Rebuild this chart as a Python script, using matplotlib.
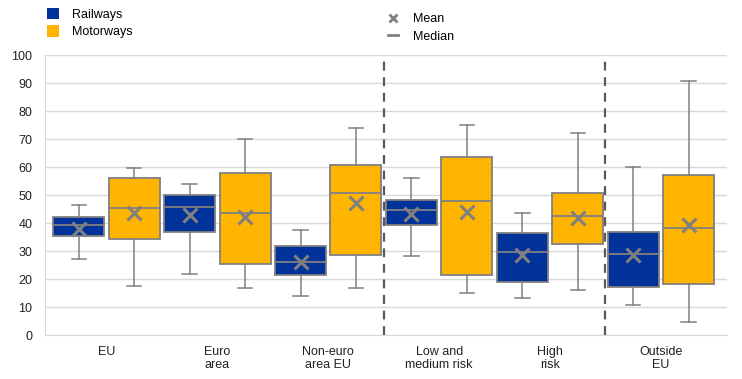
import matplotlib
matplotlib.use("Agg")
import matplotlib.pyplot as plt
from matplotlib.patches import Patch
from matplotlib.lines import Line2D

plt.rcParams['font.family'] = ['Liberation Sans', 'DejaVu Sans']

categories = ['EU', 'Euro\narea', 'Non-euro\narea EU', 'Low and\nmedium risk', 'High\nrisk', 'Outside\nEU']

# per category: railways then motorways
rail_whislo = [27.1, 21.8, 13.9, 28.2, 13.2, 10.7]
rail_q1     = [35.4, 36.8, 21.5, 39.3, 19.0, 17.1]
rail_med    = [39.3, 45.7, 26.1, 44.7, 29.6, 29.0]
rail_q3     = [42.1, 50.2, 32.0, 48.2, 36.4, 36.8]
rail_whishi = [46.4, 54.1, 37.5, 56.1, 43.8, 60.0]
rail_mean   = [37.9, 43.0, 26.3, 43.3, 28.7, 28.7]

motor_whislo = [17.5, 16.8, 16.8, 15.0, 16.1, 4.6]
motor_q1     = [34.3, 25.4, 28.6, 21.5, 32.5, 18.2]
motor_med    = [45.4, 43.6, 50.7, 48.0, 42.5, 38.2]
motor_q3     = [56.1, 58.1, 60.7, 63.6, 50.7, 57.1]
motor_whishi = [59.6, 70.2, 73.9, 75.0, 72.1, 90.7]
motor_mean   = [43.6, 42.4, 47.1, 44.1, 41.8, 39.5]

blue = '#003299'
yellow = '#FFB400'
gray = '#808080'

fig = plt.figure(figsize=(7.42, 3.79), dpi=100)
ax = fig.add_axes([0.0606, 0.1153, 0.919, 0.7388])

def stats(lo, q1, med, q3, hi, mean):
    out = []
    for i in range(len(lo)):
        out.append({'whislo': lo[i], 'q1': q1[i], 'med': med[i], 'q3': q3[i],
                    'whishi': hi[i], 'mean': mean[i], 'fliers': []})
    return out

n = len(categories)
rail_pos = [2 * i for i in range(n)]
motor_pos = [2 * i + 1 for i in range(n)]

for st, pos, col in [(stats(rail_whislo, rail_q1, rail_med, rail_q3, rail_whishi, rail_mean), rail_pos, blue),
                     (stats(motor_whislo, motor_q1, motor_med, motor_q3, motor_whishi, motor_mean), motor_pos, yellow)]:
    ax.bxp(st, positions=pos, widths=0.92, patch_artist=True, showmeans=True,
           showfliers=False, capwidths=0.26,
           boxprops=dict(facecolor=col, edgecolor=gray, linewidth=1.3),
           medianprops=dict(color=gray, linewidth=1.3),
           whiskerprops=dict(color=gray, linewidth=1.1),
           capprops=dict(color=gray, linewidth=1.1),
           meanprops=dict(marker='x', markeredgecolor=gray, markersize=10, markeredgewidth=2.2),
           zorder=3)

for xv in [5.5, 9.5]:
    ax.axvline(xv, color='#595959', linestyle=(0, (4, 3)), linewidth=1.6, zorder=4)

ax.set_xlim(-0.61, 11.69)
ax.set_ylim(0, 100)
ax.set_yticks(range(0, 101, 10))
ax.yaxis.grid(True, color='#d9d9d9', linewidth=1)
ax.set_axisbelow(True)
ax.set_xticks([2 * i + 0.5 for i in range(n)])
ax.set_xticklabels(categories, fontsize=9, color='#222222', linespacing=1.1)
ax.tick_params(axis='both', length=0, labelsize=9, colors='#222222')
ax.tick_params(axis='x', pad=8)
ax.tick_params(axis='y', pad=9)
for s in ['top', 'right']:
    ax.spines[s].set_visible(False)
for s in ['left', 'bottom']:
    ax.spines[s].set_color('#d9d9d9')

h1 = [Patch(facecolor=blue, label='Railways'), Patch(facecolor=yellow, label='Motorways')]
fig.legend(handles=h1, loc='upper left', bbox_to_anchor=(0.048, 1.008), frameon=False,
           fontsize=9, handlelength=1.0, handleheight=1.0, handletextpad=1.0, labelspacing=0.35)
h2 = [Line2D([], [], color=gray, marker='x', linestyle='none', markersize=6, markeredgewidth=2, label='Mean'),
      Line2D([], [], color=gray, linewidth=2, label='Median')]
fig.legend(handles=h2, loc='upper left', bbox_to_anchor=(0.508, 0.995), frameon=False,
           fontsize=9, handlelength=0.8, handletextpad=1.2, labelspacing=0.45)

fig.savefig('out.png', dpi=100)
